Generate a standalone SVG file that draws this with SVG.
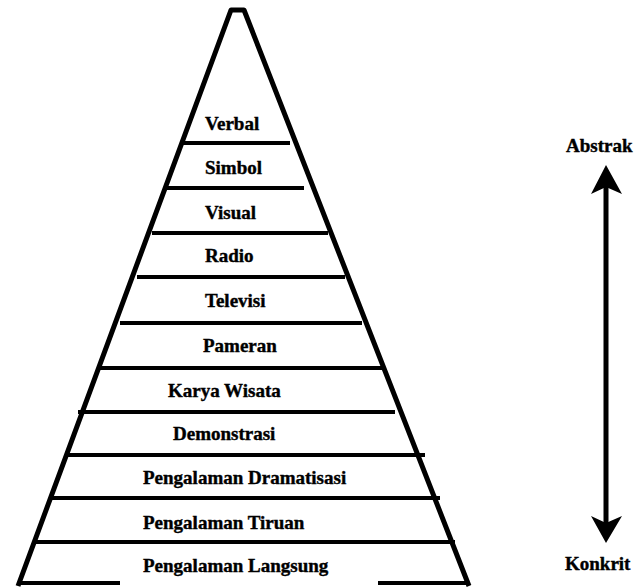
<svg xmlns="http://www.w3.org/2000/svg" width="638" height="587" viewBox="0 0 638 587">
<style>
.lbl{font-family:"Liberation Serif","Times New Roman",serif;font-weight:bold;font-size:19px;fill:#000;stroke:#000;stroke-width:0.4}
.edge{fill:none;stroke:#000;stroke-width:5;stroke-linejoin:round}
.sep{stroke:#000;stroke-width:4}
</style>
<rect width="638" height="587" fill="#fff"/>
<g id="pyramid">
<path class="edge" d="M18 586 L231 10 L244 10 L469 586"/>
<line class="sep" x1="18" y1="583" x2="120" y2="583"/>
<line class="sep" x1="378" y1="583" x2="468" y2="583"/>
</g>
<g id="verbal"><text class="lbl" x="205" y="130">Verbal</text><line class="sep" x1="183" y1="143" x2="290" y2="143"/></g>
<g id="simbol"><text class="lbl" x="205" y="174">Simbol</text><line class="sep" x1="167" y1="188" x2="304" y2="188"/></g>
<g id="visual"><text class="lbl" x="205" y="219">Visual</text><line class="sep" x1="152" y1="233" x2="328" y2="233"/></g>
<g id="radio"><text class="lbl" x="205" y="262">Radio</text><line class="sep" x1="137" y1="277" x2="345" y2="277"/></g>
<g id="televisi"><text class="lbl" x="205" y="307">Televisi</text><line class="sep" x1="120" y1="323" x2="362" y2="323"/></g>
<g id="pameran"><text class="lbl" x="203" y="352">Pameran</text><line class="sep" x1="99" y1="368" x2="382" y2="368"/></g>
<g id="karya-wisata"><text class="lbl" x="168" y="397">Karya Wisata</text><line class="sep" x1="78" y1="412" x2="395" y2="412"/></g>
<g id="demonstrasi"><text class="lbl" x="173" y="440">Demonstrasi</text><line class="sep" x1="66" y1="455" x2="425" y2="455"/></g>
<g id="dramatisasi"><text class="lbl" x="143" y="484">Pengalaman Dramatisasi</text><line class="sep" x1="50" y1="498" x2="440" y2="498"/></g>
<g id="tiruan"><text class="lbl" x="143" y="529">Pengalaman Tiruan</text><line class="sep" x1="34" y1="542" x2="455" y2="542"/></g>
<g id="langsung"><text class="lbl" x="143" y="572">Pengalaman Langsung</text></g>
<g id="abstrak"><text class="lbl" x="566" y="152">Abstrak</text></g>
<g id="konkrit"><text class="lbl" x="565" y="570">Konkrit</text></g>
<g id="connectors">
<line x1="606" y1="185" x2="606" y2="525" stroke="#000" stroke-width="5"/>
<path d="M606 165 L622 194 L606 187 L591 194 Z" fill="#000"/>
<path d="M606 543 L622 516 L606 523 L591 516 Z" fill="#000"/>
</g>
</svg>
